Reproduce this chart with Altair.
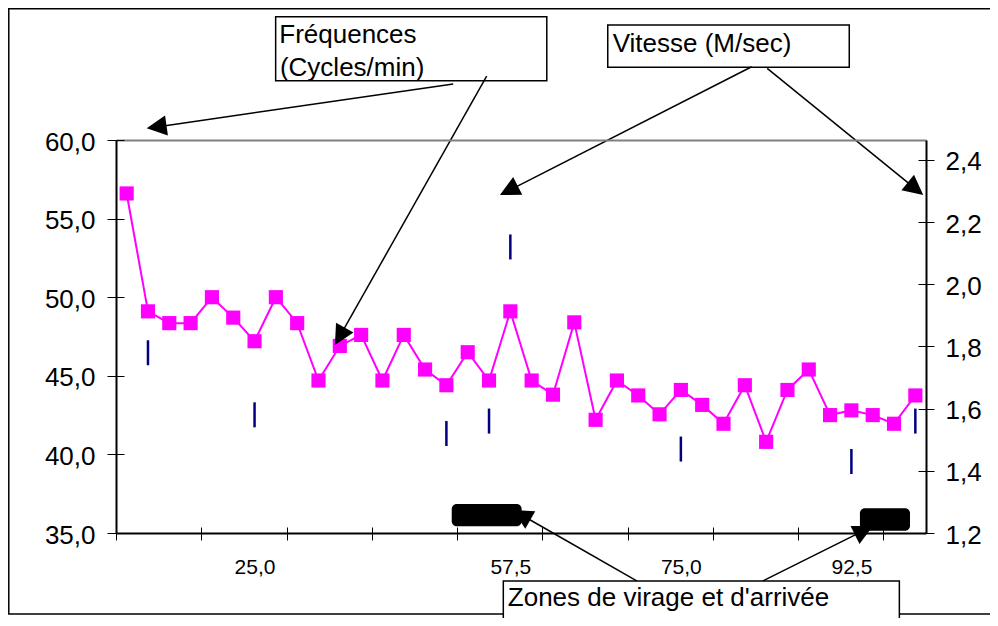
import math
import altair as alt
import pandas as pd

# ---------------- data ----------------
# Fréquences (cycles/min), one value per category (38 categories)
freq = [56.6, 49.1, 48.35, 48.35, 50.0, 48.7, 47.2, 50.0, 48.35, 44.7,
        46.9, 47.6, 44.7, 47.6, 45.4, 44.4, 46.5, 44.7, 49.1, 44.7,
        43.8, 48.4, 42.2, 44.7, 43.75, 42.55, 44.1, 43.15, 41.95, 44.4,
        40.8, 44.1, 45.4, 42.5, 42.8, 42.5, 41.95, 43.75]
# Vitesse (m/sec), only measured at some categories
speed_cats = [1, 6, 15, 17, 18, 26, 34, 37]
speed = [1.78, 1.58, 1.52, 1.56, 2.12, 1.47, 1.43, 1.56]
# category labels shown on the x axis
x_label_cats = [6, 18, 26, 34]
x_labels = ["25,0", "57,5", "75,0", "92,5"]
n_cats = len(freq)

left_ticks = [35, 40, 45, 50, 55, 60]
right_ticks = [1.2, 1.4, 1.6, 1.8, 2.0, 2.2, 2.4]
x_tick_cats = list(range(0, n_cats, 4))

# ---------------- annotations (in data units: x = category, y = left axis) ----------------
ann_boxes = pd.DataFrame({
    "x": [7.49, 23.07, 18.17], "x2": [20.21, 34.40, 36.75],
    "y": [67.84, 67.32, 31.95], "y2": [63.77, 64.62, 28.0],
})
ann_texts = pd.DataFrame({
    "x": [7.66, 7.69, 23.30, 18.38],
    "y": [66.15, 64.07, 65.62, 30.36],
    "t": ["Fréquences", "(Cycles/min)", "Vitesse (M/sec)", "Zones de virage et d'arrivée"],
})
arr_start_x = [15.82, 17.39, 29.82, 30.55, 24.43, 30.35]
arr_start_y = [63.56, 64.07, 64.66, 64.56, 31.95, 31.95]
arr_tip_x = [1.44, 10.27, 18.01, 37.87, 18.62, 35.51]
arr_tip_y = [60.74, 46.96, 56.50, 56.50, 36.46, 35.44]
zone_rects = pd.DataFrame({
    "x": [15.75, 34.90], "x2": [19.03, 37.25],
    "y": [36.84, 36.57], "y2": [35.43, 35.15],
})
frame_df = pd.DataFrame({"x": [-5.03], "x2": [41.94], "y": [68.35], "y2": [29.85]})

# ---------------- geometry ----------------
W, H = 810, 393
XD = [0, n_cats]
YLD = [35, 60]
YRD = [1.2, 2.464]
PX = W / (XD[1] - XD[0])
PY = H / (YLD[1] - YLD[0])
HEAD = 20

rows = []
for xs, ys, xt, yt in zip(arr_start_x, arr_start_y, arr_tip_x, arr_tip_y):
    dxp = (xt - xs) * PX
    dyp = -(yt - ys) * PY
    L = math.hypot(dxp, dyp)
    back = HEAD - 3
    bx = xt - back * dxp / L / PX
    by = yt + back * dyp / L / PY
    ang = math.degrees(math.atan2(dxp, -dyp)) % 360
    rows.append({"xs": xs, "ys": ys, "xb": bx, "yb": by, "xt": xt, "yt": yt, "ang": ang})
arrows = pd.DataFrame(rows)

freq_df = pd.DataFrame({"cat": list(range(n_cats)), "freq": freq})
speed_df = pd.DataFrame({"cat": speed_cats, "speed": speed})

FONT = "Liberation Sans"


def xs_(field, axis=None):
    return alt.X(field, type="quantitative", axis=axis,
                 scale=alt.Scale(domain=XD, nice=False, zero=False))


def yl_(field, axis=None):
    return alt.Y(field, type="quantitative", axis=axis,
                 scale=alt.Scale(domain=YLD, nice=False, zero=False))


def yr_(field, axis=None):
    return alt.Y(field, type="quantitative", axis=axis,
                 scale=alt.Scale(domain=YRD, nice=False, zero=False))


comma_fmt = "replace(format(datum.value, '.1f'), '.', ',')"

ax_left = alt.Axis(orient="left", values=left_ticks, labelExpr=comma_fmt, title=None,
                   grid=False, domainColor="black", domainWidth=2, tickColor="black",
                   tickWidth=1, tickSize=9, labelFontSize=26, labelColor="black",
                   labelFont=FONT, labelPadding=12, labelOffset=2, labelFlush=False,
                   labelOverlap=False, zindex=2)
ax_left_in = alt.Axis(orient="left", values=left_ticks, offset=-8, tickSize=8, domain=False,
                      labels=False, title=None, grid=False, tickColor="black", tickWidth=1,
                      zindex=2)
ax_right = alt.Axis(orient="right", values=right_ticks, labelExpr=comma_fmt, title=None,
                    grid=False, domainColor="black", domainWidth=2, tickColor="black",
                    tickWidth=1, tickSize=8, labelFontSize=26, labelColor="black",
                    labelFont=FONT, labelPadding=11, labelOffset=2, labelFlush=False,
                    labelOverlap=False, zindex=2)
ax_right_in = alt.Axis(orient="right", values=right_ticks, offset=-8, tickSize=8, domain=False,
                       labels=False, title=None, grid=False, tickColor="black", tickWidth=1,
                       zindex=2)

label_pos = [c + 0.5 for c in x_label_cats]
x_expr = " : ".join(f"datum.value == {p} ? '{t}'" for p, t in zip(label_pos, x_labels)) + " : ''"
ax_x = alt.Axis(orient="bottom", values=x_tick_cats + label_pos, labelExpr=x_expr, title=None,
                grid=False, domainColor="black", domainWidth=2, tickColor="black", tickWidth=1,
                tickSize=7,
                tickOpacity={"condition": {"test": "datum.value % 1 != 0", "value": 0}, "value": 1},
                labelFontSize=21, labelColor="black", labelFont=FONT, labelPadding=16,
                labelFlush=False, labelOverlap=False, zindex=2)
ax_x_in = alt.Axis(orient="bottom", values=x_tick_cats, offset=-6, tickSize=6, domain=False,
                   labels=False, title=None, grid=False, tickColor="black", tickWidth=1,
                   zindex=2)
ax_top = alt.Axis(orient="top", domain=True, domainColor="#808080", domainWidth=2, ticks=False,
                  labels=False, title=None, grid=False, zindex=1)

frame = alt.Chart(frame_df).mark_rect(fillOpacity=0, stroke="black", strokeWidth=1.5).encode(
    x=xs_("x"), x2="x2", y=yl_("y"), y2="y2")

base_f = alt.Chart(freq_df).transform_calculate(xc="datum.cat + 0.5")
line = base_f.mark_line(color="#FF00FF", strokeWidth=2).encode(
    x=xs_("xc", ax_x), y=yl_("freq", ax_left))
pts = base_f.mark_point(shape="square", filled=True, size=200, color="#FF00FF", opacity=1).encode(
    x=xs_("xc", ax_x_in), y=yl_("freq", ax_left_in))

base_s = alt.Chart(speed_df).transform_calculate(xc="datum.cat + 0.5")
spd = base_s.mark_tick(orient="vertical", size=25, thickness=2.5, color="#000080", opacity=1).encode(
    x=xs_("xc"), y=yr_("speed", ax_right))
spd_in = base_s.mark_tick(orient="vertical", size=25, thickness=2.5, color="#000080", opacity=0).encode(
    x=xs_("xc", ax_top), y=yr_("speed", ax_right_in))

boxes = alt.Chart(ann_boxes).mark_rect(fill="white", stroke="black", strokeWidth=1.5).encode(
    x=xs_("x"), x2="x2", y=yl_("y"), y2="y2")
texts = alt.Chart(ann_texts).mark_text(align="left", baseline="alphabetic", fontSize=26,
                                       font=FONT, color="black").encode(
    x=xs_("x"), y=yl_("y"), text="t:N")
arr_lines = alt.Chart(arrows).mark_rule(color="black", strokeWidth=1.5).encode(
    x=xs_("xs"), x2="xb", y=yl_("ys"), y2="yb")
arr_heads = alt.Chart(arrows).mark_point(shape="M0,0L-0.5,1L0.5,1Z", filled=True, size=4 * HEAD * HEAD,
                                         color="black", opacity=1, strokeWidth=0).encode(
    x=xs_("xt"), y=yl_("yt"), angle=alt.Angle("ang:Q", scale=None))
zones = alt.Chart(zone_rects).mark_rect(color="black", cornerRadius=5).encode(
    x=xs_("x"), x2="x2", y=yl_("y"), y2="y2")

chart = alt.layer(frame, line, pts, spd, spd_in, boxes, texts, arr_lines, arr_heads, zones).resolve_scale(
    x="independent", y="independent").resolve_axis(x="independent", y="independent").properties(
    width=W, height=H, autosize=alt.AutoSizeParams(type="none"),
    padding={"left": 108, "top": 132, "right": 64, "bottom": 85}).configure_view(
    stroke="#808080", strokeWidth=2).configure(font=FONT)

chart.save("out.html", embed_options={"renderer": "svg", "actions": False})
